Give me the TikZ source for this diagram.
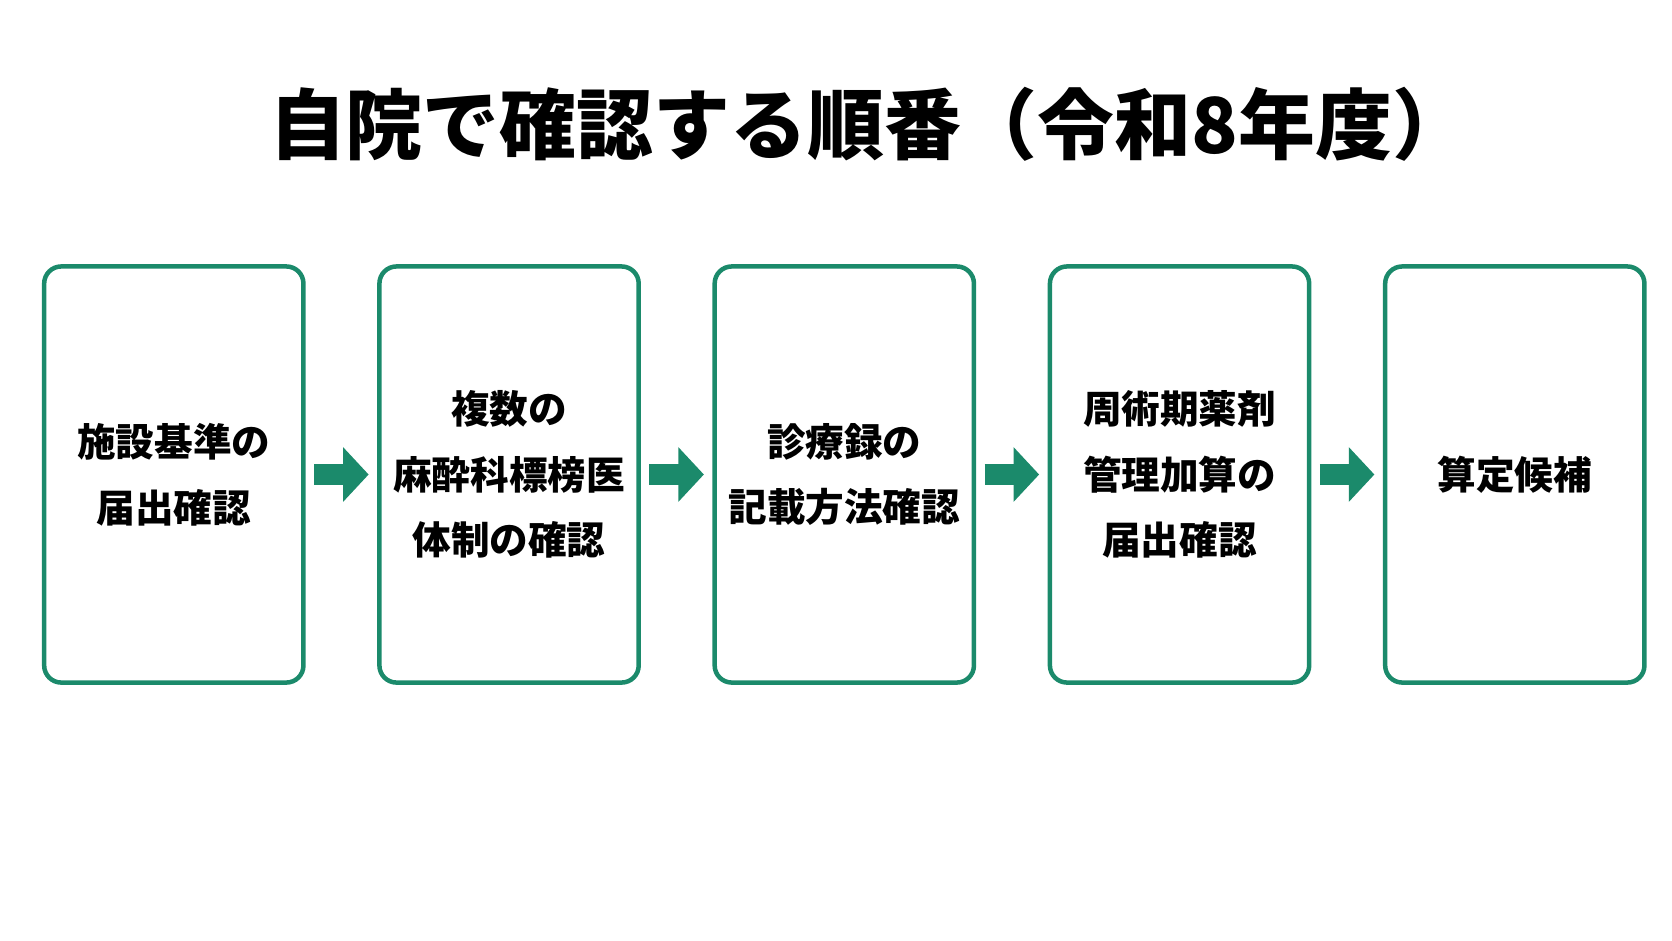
\documentclass[tikz,border=0pt]{standalone}
\usepackage{fontspec}
\setmainfont{Noto Sans CJK JP}
\usetikzlibrary{positioning,arrows.meta}
\definecolor{teal1}{HTML}{1B8A6B}
\begin{document}
\begin{tikzpicture}[x=0.01cm,y=-0.01cm,
    stagebox/.style={draw=teal1, line width=1.2pt, rounded corners=0.16cm, inner sep=0pt,
      text width=2.3cm, minimum width=2.43cm, minimum height=3.9cm, align=center,
      font=\bfseries\fontsize{10.3}{17.5}\selectfont},
    flow/.style={teal1, line width=0.2cm, shorten <=0.08cm, shorten >=0.08cm,
      -{Triangle[width=0.5cm,length=0.24cm]}},
    node distance=0.67cm]
    \useasboundingbox (0,0) rectangle (1568,882);
    \node [font=\bfseries\fontsize{20.5}{24}\selectfont] (title) at (815,117) {自院で確認する順番（令和8年度）};

    \node [stagebox] (s1) at (163,445) {施設基準の\\届出確認};
    \node [stagebox, right=of s1] (s2) {複数の\\麻酔科標榜医\\体制の確認};
    \node [stagebox, right=of s2] (s3) {診療録の\\記載方法確認};
    \node [stagebox, right=of s3] (s4) {周術期薬剤\\管理加算の\\届出確認};
    \node [stagebox, right=of s4] (s5) {算定候補};

    \draw [flow] (s1) -- (s2);
    \draw [flow] (s2) -- (s3);
    \draw [flow] (s3) -- (s4);
    \draw [flow] (s4) -- (s5);
\end{tikzpicture}
\end{document}
